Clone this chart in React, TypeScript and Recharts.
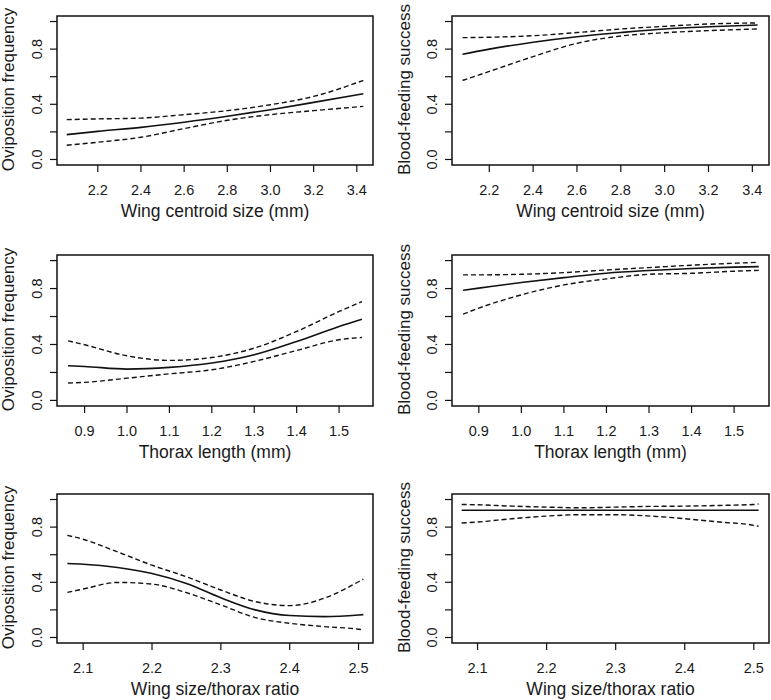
import React from 'react'
import { LineChart, Line, XAxis, YAxis, ReferenceArea, Label } from 'recharts'

const FONT = '"Liberation Sans", Arial, Helvetica, sans-serif'
const INK = '#1a1a1a'

// ---- wing centroid size (mm)
const wingTicks = [2.2, 2.4, 2.6, 2.8, 3.0, 3.2, 3.4]

const wingOviX = [2.056, 2.2, 2.4, 2.6, 2.8, 3.0, 3.2, 3.43]
const wingOviFit = [0.18, 0.204, 0.233, 0.27, 0.313, 0.361, 0.414, 0.477]
const wingOviLo = [0.103, 0.125, 0.161, 0.224, 0.284, 0.325, 0.354, 0.385]
const wingOviHi = [0.289, 0.294, 0.3, 0.325, 0.354, 0.397, 0.457, 0.573]

const wingBloodX = [2.078, 2.2, 2.4, 2.6, 2.8, 3.0, 3.2, 3.424]
const wingBloodFit = [0.763, 0.8, 0.85, 0.89, 0.92, 0.946, 0.962, 0.975]
const wingBloodLo = [0.573, 0.638, 0.746, 0.842, 0.895, 0.919, 0.934, 0.946]
const wingBloodHi = [0.883, 0.886, 0.897, 0.92, 0.946, 0.965, 0.982, 0.99]

// ---- thorax length (mm)
const thoraxTicks = [0.9, 1.0, 1.1, 1.2, 1.3, 1.4, 1.5]

const thoraxOviX = [0.861, 0.9, 1.0, 1.1, 1.2, 1.3, 1.4, 1.5, 1.554]
const thoraxOviFit = [0.248, 0.243, 0.224, 0.236, 0.267, 0.326, 0.421, 0.529, 0.581]
const thoraxOviLo = [0.124, 0.129, 0.159, 0.19, 0.219, 0.279, 0.357, 0.434, 0.45]
const thoraxOviHi = [0.426, 0.398, 0.319, 0.286, 0.307, 0.374, 0.493, 0.636, 0.707]

const thoraxBloodX = [0.863, 0.9, 1.0, 1.1, 1.2, 1.3, 1.4, 1.5, 1.558]
const thoraxBloodFit = [0.788, 0.803, 0.843, 0.878, 0.91, 0.929, 0.943, 0.953, 0.957]
const thoraxBloodLo = [0.617, 0.66, 0.755, 0.826, 0.869, 0.902, 0.909, 0.924, 0.93]
const thoraxBloodHi = [0.898, 0.898, 0.902, 0.914, 0.933, 0.95, 0.967, 0.981, 0.988]

// ---- wing size / thorax ratio
const ratioTicks = [2.1, 2.2, 2.3, 2.4, 2.5]

const ratioX = [2.077, 2.1, 2.15, 2.2, 2.25, 2.3, 2.35, 2.4, 2.45, 2.5, 2.507]
const ratioOviFit = [0.536, 0.531, 0.507, 0.464, 0.392, 0.288, 0.2, 0.159, 0.151, 0.163, 0.166]
const ratioOviLo = [0.327, 0.351, 0.399, 0.387, 0.325, 0.236, 0.144, 0.103, 0.079, 0.06, 0.055]
const ratioOviHi = [0.74, 0.712, 0.62, 0.524, 0.44, 0.344, 0.26, 0.231, 0.284, 0.404, 0.423]

const ratioBloodFit = [0.922, 0.922, 0.922, 0.922, 0.922, 0.922, 0.922, 0.922, 0.922, 0.922, 0.922]
const ratioBloodLo = [0.83, 0.837, 0.861, 0.88, 0.89, 0.89, 0.88, 0.861, 0.837, 0.813, 0.806]
const ratioBloodHi = [0.964, 0.962, 0.952, 0.945, 0.94, 0.945, 0.95, 0.952, 0.957, 0.964, 0.967]

const yTicks = [0, 0.2, 0.4, 0.6, 0.8, 1.0]
const yLabelled = [0, 0.4, 0.8]

const rows = (xs: number[], fit: number[], lo: number[], hi: number[]) =>
  xs.map((x, i) => ({ x, fit: fit[i], lo: lo[i], hi: hi[i] }))

const Y_AXIS_W = 57
const TOP_PAD = 16
const X_AXIS_H = 56

function XTick(props: any) {
  const { x, y, payload } = props
  return (
    <text x={x} y={y + 23} textAnchor="middle" fontSize={14.5} fontFamily={FONT} fill={INK}>
      {Number(payload.value).toFixed(1)}
    </text>
  )
}

function YTick(props: any) {
  const { x, y, payload } = props
  const v = Number(payload.value)
  if (!yLabelled.some((t) => Math.abs(t - v) < 1e-6)) return <g />
  const bx = x - 8
  return (
    <text
      x={bx}
      y={y}
      transform={`rotate(-90 ${bx} ${y})`}
      textAnchor="middle"
      fontSize={14.5}
      fontFamily={FONT}
      fill={INK}
    >
      {v.toFixed(1)}
    </text>
  )
}

interface PanelProps {
  data: { x: number; fit: number; lo: number; hi: number }[]
  boxLeft: number
  boxTop: number
  boxW: number
  boxH: number
  xDomain: [number, number]
  xTicks: number[]
  xTitle: string
  yTitle: string
  yTitleGap: number
}

function Panel({ data, boxLeft, boxTop, boxW, boxH, xDomain, xTicks, xTitle, yTitle, yTitleGap }: PanelProps) {
  const width = Y_AXIS_W + boxW + 2
  const height = TOP_PAD + boxH + X_AXIS_H
  const yTitleX = Y_AXIS_W - yTitleGap
  const yTitleY = TOP_PAD + boxH / 2 - 1
  return (
    <div style={{ position: 'absolute', left: boxLeft - Y_AXIS_W, top: boxTop - TOP_PAD }}>
      <LineChart
        width={width}
        height={height}
        data={data}
        margin={{ top: TOP_PAD, right: 2, left: 0, bottom: 0 }}
      >
        <XAxis
          type="number"
          dataKey="x"
          domain={xDomain}
          ticks={xTicks}
          interval={0}
          allowDataOverflow
          height={X_AXIS_H}
          axisLine={false}
          tickLine={{ stroke: '#111', strokeWidth: 1.2 }}
          tickSize={7}
          tickMargin={0}
          tick={<XTick />}
        >
          <Label
            content={() => (
              <text
                x={Y_AXIS_W + boxW / 2}
                y={TOP_PAD + boxH + 52}
                textAnchor="middle"
                fontSize={17.5}
                fontFamily={FONT}
                fill={INK}
              >
                {xTitle}
              </text>
            )}
          />
        </XAxis>
        <YAxis
          type="number"
          domain={[-0.04, 1.04]}
          ticks={yTicks}
          interval={0}
          allowDataOverflow
          width={Y_AXIS_W}
          axisLine={false}
          tickLine={{ stroke: '#111', strokeWidth: 1.2 }}
          tickSize={7}
          tickMargin={0}
          tick={<YTick />}
        >
          <Label
            content={() => (
              <text
                x={yTitleX}
                y={yTitleY}
                transform={`rotate(-90 ${yTitleX} ${yTitleY})`}
                textAnchor="middle"
                fontSize={17}
                fontFamily={FONT}
                fill={INK}
              >
                {yTitle}
              </text>
            )}
          />
        </YAxis>
        <ReferenceArea
          x1={xDomain[0]}
          x2={xDomain[1]}
          y1={-0.04}
          y2={1.04}
          fill="none"
          stroke="#111"
          strokeWidth={1.5}
          ifOverflow="visible"
        />
        <Line type="monotone" dataKey="hi" stroke="#111" strokeWidth={1.4} strokeDasharray="5 3" dot={false} isAnimationActive={false} />
        <Line type="monotone" dataKey="lo" stroke="#111" strokeWidth={1.4} strokeDasharray="5 3" dot={false} isAnimationActive={false} />
        <Line type="monotone" dataKey="fit" stroke="#111" strokeWidth={1.6} dot={false} isAnimationActive={false} />
      </LineChart>
    </div>
  )
}

const OVI = 'Oviposition frequency'
const BLOOD = 'Blood-feeding success'

export default function App() {
  return (
    <div style={{ position: 'absolute', left: 0, top: 0, width: 771, height: 700, background: '#fff', overflow: 'hidden' }}>
      <Panel
        data={rows(wingOviX, wingOviFit, wingOviLo, wingOviHi)}
        boxLeft={57} boxTop={16} boxW={316} boxH={149}
        xDomain={[2.011, 3.475]} xTicks={wingTicks}
        xTitle="Wing centroid size (mm)" yTitle={OVI} yTitleGap={43}
      />
      <Panel
        data={rows(wingBloodX, wingBloodFit, wingBloodLo, wingBloodHi)}
        boxLeft={452} boxTop={16} boxW={317} boxH={149}
        xDomain={[2.03, 3.476]} xTicks={wingTicks}
        xTitle="Wing centroid size (mm)" yTitle={BLOOD} yTitleGap={42}
      />
      <Panel
        data={rows(thoraxOviX, thoraxOviFit, thoraxOviLo, thoraxOviHi)}
        boxLeft={57} boxTop={255} boxW={316} boxH={151}
        xDomain={[0.835, 1.58]} xTicks={thoraxTicks}
        xTitle="Thorax length (mm)" yTitle={OVI} yTitleGap={43}
      />
      <Panel
        data={rows(thoraxBloodX, thoraxBloodFit, thoraxBloodLo, thoraxBloodHi)}
        boxLeft={452} boxTop={255} boxW={317} boxH={151}
        xDomain={[0.837, 1.582]} xTicks={thoraxTicks}
        xTitle="Thorax length (mm)" yTitle={BLOOD} yTitleGap={42}
      />
      <Panel
        data={rows(ratioX, ratioOviFit, ratioOviLo, ratioOviHi)}
        boxLeft={57} boxTop={494} boxW={316} boxH={149}
        xDomain={[2.062, 2.521]} xTicks={ratioTicks}
        xTitle="Wing size/thorax ratio" yTitle={OVI} yTitleGap={43}
      />
      <Panel
        data={rows(ratioX, ratioBloodFit, ratioBloodLo, ratioBloodHi)}
        boxLeft={452} boxTop={494} boxW={317} boxH={149}
        xDomain={[2.063, 2.522]} xTicks={ratioTicks}
        xTitle="Wing size/thorax ratio" yTitle={BLOOD} yTitleGap={42}
      />
    </div>
  )
}
